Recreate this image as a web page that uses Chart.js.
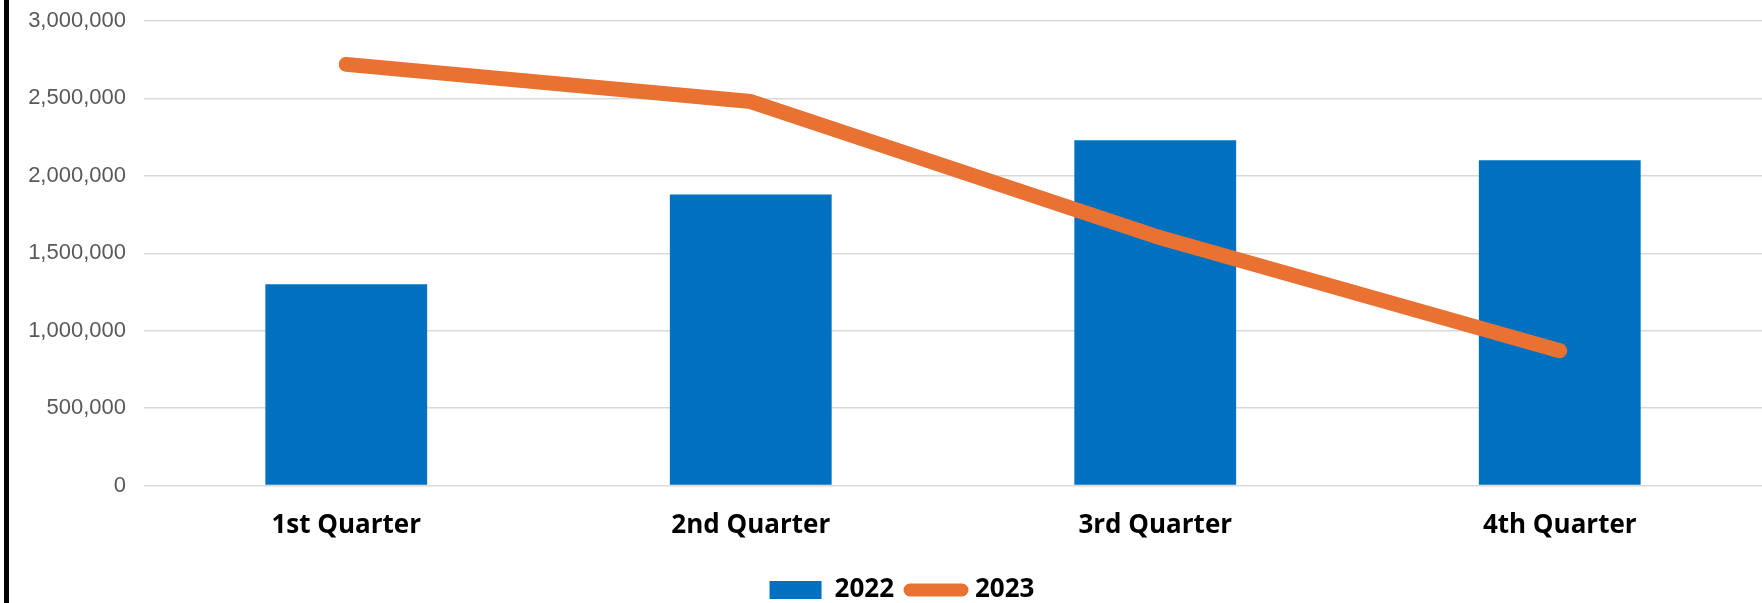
<!DOCTYPE html>
<html>
<head>
<meta charset="utf-8">
<script src="https://cdn.jsdelivr.net/npm/chart.js@4/dist/chart.umd.min.js"></script>
<style>
  body { margin: 0; background: #fff; }
  #wrap { position: relative; width: 1762px; height: 603px; }
  #edge { position: absolute; left: 4px; top: 0; width: 5px; height: 603px; background: #000; }
</style>
</head>
<body>
<div id="wrap">
  <canvas id="quarters" width="1762" height="603"></canvas>
  <div id="edge"></div>
</div>
<script>
let quarterLabels = ["1st Quarter", "2nd Quarter", "3rd Quarter", "4th Quarter"];
let sales2022 = [1300000, 1880000, 2230000, 2100000];
let sales2023 = [2720000, 2480000, 1610000, 870000];
let yTicksMax = 3000000;
let yTicksStep = 500000;

let barBlue = "#0070C0";
let lineOrange = "#E97132";
let legendGap = 16;

// the legend in the original sits a bit right of the page centre
const legendNudge = {
  id: "legendNudge",
  afterLayout(chart) {
    chart.legend.left += 21;
    chart.legend.right += 21;
  },
};

let ctx = document.getElementById("quarters");

new Chart(ctx, {
  type: "bar",
  plugins: [legendNudge],
  data: {
    labels: quarterLabels,
    datasets: [
      {
        label: "2022",
        data: sales2022,
        backgroundColor: barBlue,
        borderWidth: 0,
        categoryPercentage: 1,
        barPercentage: 0.4,
        pointStyle: "rect",
        order: 1,
      },
      {
        type: "line",
        label: "2023",
        data: sales2023,
        borderColor: lineOrange,
        backgroundColor: lineOrange,
        borderWidth: 15,
        borderCapStyle: "round",
        borderJoinStyle: "round",
        pointRadius: 0,
        pointHoverRadius: 0,
        pointStyle: "line",
        tension: 0,
        order: 0,
      },
    ],
  },
  options: {
    responsive: false,
    animation: false,
    layout: {
      padding: { left: 0, right: 0, top: 21, bottom: -10 },
    },
    plugins: {
      tooltip: { enabled: false },
      legend: {
        display: true,
        position: "bottom",
        labels: {
          usePointStyle: true,
          pointStyleWidth: 52,
          boxHeight: 18,
          padding: legendGap,
          color: "#000",
          font: { family: "Open Sans", weight: "bold", size: 26 },
          sort: (a, b) => a.datasetIndex - b.datasetIndex,
          generateLabels: (chart) =>
            Chart.defaults.plugins.legend.labels.generateLabels(chart).map((item) => {
              if (item.datasetIndex === 1) {
                item.lineCap = "round";
                item.lineWidth = 13;
              }
              return item;
            }),
        },
      },
    },
    scales: {
      x: {
        grid: { display: false, drawTicks: false },
        border: { display: false },
        ticks: {
          padding: 24,
          color: "#000",
          font: { family: "Open Sans", weight: "bold", size: 26 },
        },
        afterFit: (scale) => {
          scale.height = 91.5 - legendGap;
        },
      },
      y: {
        min: 0,
        max: yTicksMax,
        grid: {
          color: "#d9d9d9",
          lineWidth: 1.5,
          drawTicks: true,
          tickLength: 15,
          tickColor: "rgba(0,0,0,0)",
        },
        border: { display: false },
        ticks: {
          stepSize: yTicksStep,
          padding: 3,
          color: "#595959",
          font: { family: "Liberation Sans", size: 22 },
          callback: (v) => v.toLocaleString("en-US"),
        },
        afterFit: (scale) => {
          scale.width = 144;
        },
      },
    },
  },
});
</script>
</body>
</html>
